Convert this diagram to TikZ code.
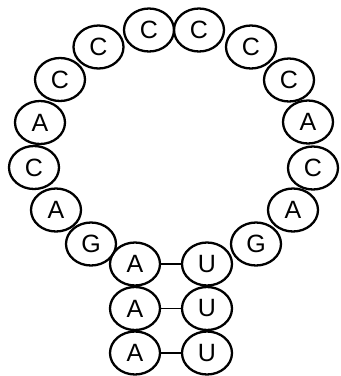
\documentclass[tikz,border=0pt]{standalone}
\usepackage{fontspec}
\setmainfont{Liberation Sans}
\usetikzlibrary{shapes.geometric}
\begin{document}
\begin{tikzpicture}[x=1pt, y=-1pt,
  nt/.style={ellipse, draw, line width=2.3pt, minimum width=50pt, minimum height=43pt, inner sep=0pt, font=\fontsize{25}{25}\selectfont},
  bp/.style={line width=1.6pt}]
\useasboundingbox (0,0) rectangle (341,376);
% stem
\node[nt] (a1) at (135,264) {A};
\node[nt] (a2) at (135,308.5) {A};
\node[nt] (a3) at (135,353) {A};
\node[nt] (u1) at (207,264) {U};
\node[nt] (u2) at (207,308.5) {U};
\node[nt] (u3) at (207,353) {U};
% loop
\node[nt] (l1) at (91,244) {G};
\node[nt] (l2) at (56,210) {A};
\node[nt] (l3) at (34,167.5) {C};
\node[nt] (l4) at (40,122.5) {A};
\node[nt] (l5) at (60,79.5) {C};
\node[nt] (l6) at (98.5,47) {C};
\node[nt] (l7) at (149,30) {C};
\node[nt] (l8) at (199,30) {C};
\node[nt] (l9) at (251,47) {C};
\node[nt] (l10) at (289,80) {C};
\node[nt] (l11) at (308,122) {A};
\node[nt] (l12) at (313,168) {C};
\node[nt] (l13) at (293,210) {A};
\node[nt] (l14) at (256,244) {G};
% base pairs
\draw[bp] (a1) -- (u1);
\draw[bp] (a2) -- (u2);
\draw[bp] (a3) -- (u3);
\end{tikzpicture}
\end{document}
